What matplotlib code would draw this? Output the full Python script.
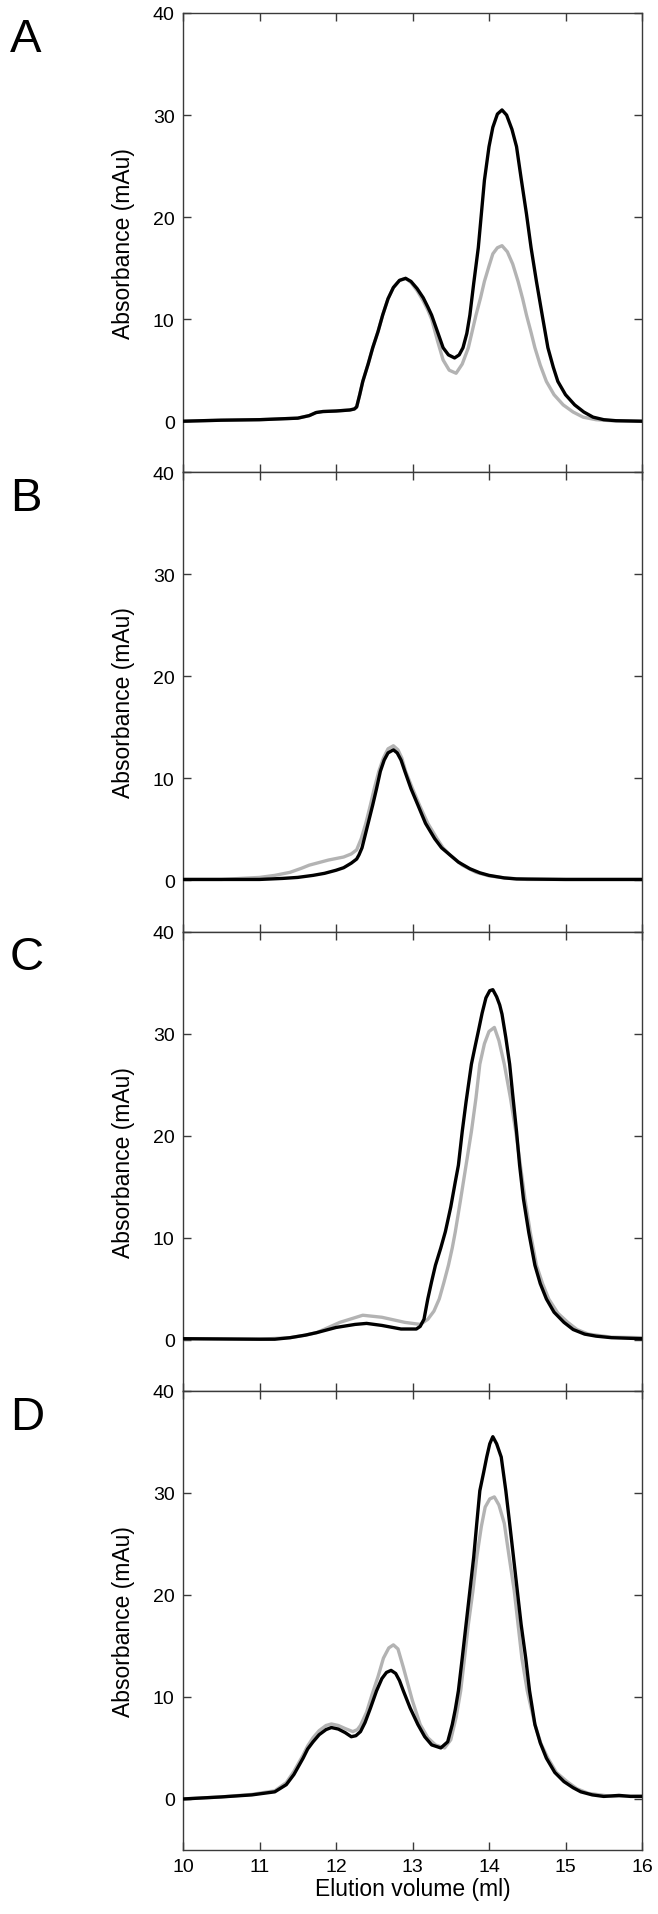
import matplotlib
matplotlib.use("Agg")
import matplotlib.pyplot as plt

plt.rcParams['font.family'] = ['Liberation Sans', 'DejaVu Sans']

# ---------------- data (elution volume in ml, absorbance in mAu) ----------------
# Panel A
a_black_x = [10.0, 10.5, 11.0, 11.5, 11.65, 11.74, 11.83, 12.0, 12.18, 12.24, 12.27, 12.31, 12.35,
             12.42, 12.48, 12.55, 12.61, 12.68, 12.75, 12.83, 12.91, 12.98, 13.06, 13.14, 13.2,
             13.25, 13.33, 13.40, 13.47, 13.55, 13.61, 13.66, 13.71, 13.75, 13.8, 13.86, 13.9,
             13.94, 14.0, 14.05, 14.11, 14.17, 14.23, 14.30, 14.36, 14.42, 14.49, 14.55, 14.62,
             14.70, 14.77, 14.84, 14.90, 15.0, 15.12, 15.24, 15.36, 15.5, 15.66, 16.0]
a_black_y = [0.0, 0.1, 0.15, 0.3, 0.55, 0.85, 0.95, 1.0, 1.1, 1.2, 1.4, 2.6, 3.9,
             5.6, 7.2, 8.8, 10.4, 12.0, 13.1, 13.8, 14.0, 13.7, 13.0, 12.1, 11.2,
             10.4, 8.7, 7.2, 6.5, 6.2, 6.5, 7.2, 8.6, 10.4, 13.5, 17.0, 20.3,
             23.6, 26.9, 28.8, 30.1, 30.5, 30.0, 28.6, 26.9, 23.8, 20.3, 17.0, 13.7,
             10.2, 7.2, 5.3, 3.9, 2.6, 1.6, 0.9, 0.4, 0.15, 0.05, 0.0]
a_gray_x = [10.0, 10.5, 11.0, 11.5, 11.65, 11.74, 11.83, 12.0, 12.18, 12.24, 12.27, 12.31, 12.35,
            12.42, 12.48, 12.55, 12.61, 12.68, 12.75, 12.83, 12.91, 12.98, 13.06, 13.14, 13.2,
            13.25, 13.33, 13.40, 13.48, 13.57, 13.65, 13.73, 13.78, 13.83, 13.89, 13.94, 14.0,
            14.05, 14.11, 14.17, 14.24, 14.31, 14.38, 14.44, 14.49, 14.55, 14.60, 14.67, 14.75,
            14.85, 14.97, 15.1, 15.23, 15.4, 15.6, 16.0]
a_gray_y = [0.0, 0.1, 0.15, 0.3, 0.55, 0.85, 0.95, 1.0, 1.1, 1.2, 1.4, 2.6, 3.9,
            5.6, 7.2, 8.8, 10.4, 12.0, 13.1, 13.8, 14.0, 13.6, 12.8, 11.8, 10.9,
            10.0, 7.8, 6.0, 5.0, 4.7, 5.6, 7.2, 8.8, 10.4, 12.1, 13.7, 15.2,
            16.4, 17.0, 17.2, 16.6, 15.4, 13.7, 12.0, 10.4, 8.7, 7.2, 5.5, 3.9,
            2.6, 1.6, 0.9, 0.4, 0.15, 0.05, 0.0]

# Panel B
b_black_x = [10.0, 10.5, 11.0, 11.3, 11.5, 11.7, 11.85, 12.0, 12.1, 12.2, 12.27, 12.3, 12.34,
             12.37, 12.42, 12.48, 12.53, 12.58, 12.63, 12.68, 12.75, 12.8, 12.85, 12.9, 12.98,
             13.07, 13.17, 13.29, 13.38, 13.49, 13.6, 13.75, 13.88, 14.0, 14.2, 14.36, 15.0, 16.0]
b_black_y = [0.1, 0.1, 0.1, 0.2, 0.3, 0.5, 0.7, 1.0, 1.25, 1.7, 2.1, 2.5, 3.2,
             4.1, 5.6, 7.4, 9.0, 10.7, 11.8, 12.5, 12.8, 12.5, 11.8, 10.7, 9.0,
             7.4, 5.6, 4.1, 3.2, 2.5, 1.8, 1.15, 0.75, 0.5, 0.25, 0.15, 0.1, 0.1]
b_gray_x = [10.0, 10.5, 11.0, 11.2, 11.4, 11.55, 11.65, 11.8, 11.9, 12.0, 12.1, 12.2, 12.27,
            12.33, 12.39, 12.45, 12.5, 12.56, 12.62, 12.68, 12.75, 12.81, 12.86, 12.91, 13.0,
            13.09, 13.2, 13.32, 13.4, 13.49, 13.65, 13.83, 14.0, 14.2, 14.5, 15.0, 16.0]
b_gray_y = [0.1, 0.1, 0.3, 0.5, 0.8, 1.2, 1.5, 1.8, 2.0, 2.15, 2.3, 2.6, 3.0,
            4.1, 5.6, 7.4, 9.0, 10.7, 12.0, 12.9, 13.2, 12.8, 12.0, 10.7, 9.0,
            7.4, 5.6, 4.1, 3.2, 2.5, 1.5, 0.8, 0.45, 0.25, 0.1, 0.1, 0.1]

# Panel C
c_black_x = [10.0, 11.0, 11.2, 11.4, 11.6, 11.75, 12.0, 12.25, 12.4, 12.6, 12.85, 13.05, 13.1,
             13.15, 13.2, 13.25, 13.3, 13.37, 13.43, 13.5, 13.56, 13.6, 13.65, 13.7, 13.77,
             13.82, 13.86, 13.91, 13.96, 14.01, 14.05, 14.1, 14.14, 14.17, 14.22, 14.27, 14.31,
             14.36, 14.4, 14.45, 14.52, 14.6, 14.67, 14.75, 14.85, 14.98, 15.1, 15.25, 15.4,
             15.6, 16.0]
c_black_y = [0.1, 0.05, 0.05, 0.2, 0.45, 0.7, 1.2, 1.5, 1.6, 1.4, 1.05, 1.05, 1.3,
             2.0, 4.0, 5.7, 7.3, 9.0, 10.6, 13.0, 15.5, 17.1, 20.4, 23.3, 27.0,
             28.8, 30.2, 32.0, 33.5, 34.2, 34.3, 33.6, 32.8, 31.9, 29.6, 27.0, 24.0,
             20.4, 17.1, 13.8, 10.5, 7.3, 5.5, 4.0, 2.7, 1.7, 1.0, 0.55, 0.35,
             0.2, 0.1]
c_gray_x = [10.0, 11.0, 11.4, 11.6, 11.75, 12.05, 12.35, 12.6, 12.9, 13.1, 13.2, 13.28, 13.35,
            13.41, 13.47, 13.52, 13.56, 13.63, 13.7, 13.77, 13.83, 13.88, 13.94, 14.0, 14.07,
            14.13, 14.2, 14.28, 14.35, 14.41, 14.47, 14.54, 14.62, 14.7, 14.78, 14.9, 15.03,
            15.15, 15.3, 15.6, 16.0]
c_gray_y = [0.1, 0.05, 0.2, 0.45, 0.7, 1.7, 2.4, 2.2, 1.7, 1.5, 2.0, 2.8, 4.0,
            5.6, 7.3, 9.0, 10.6, 13.8, 17.1, 20.4, 23.7, 27.0, 29.0, 30.2, 30.6,
            29.3, 27.0, 23.7, 20.4, 17.1, 13.8, 10.5, 7.3, 5.5, 4.0, 2.6, 1.7,
            1.0, 0.55, 0.25, 0.2]

# Panel D
d_black_x = [10.0, 10.5, 10.9, 11.2, 11.35, 11.45, 11.51, 11.57, 11.63, 11.7, 11.78, 11.87, 11.94,
             12.03, 12.12, 12.2, 12.26, 12.32, 12.38, 12.45, 12.53, 12.6, 12.66, 12.72, 12.78,
             12.83, 12.88, 12.97, 13.07, 13.16, 13.25, 13.37, 13.46, 13.52, 13.56, 13.6, 13.65,
             13.7, 13.75, 13.8, 13.84, 13.88, 13.93, 13.97, 14.01, 14.05, 14.1, 14.16, 14.22,
             14.27, 14.32, 14.37, 14.42, 14.48, 14.53, 14.6, 14.67, 14.75, 14.86, 14.98, 15.1,
             15.2, 15.35, 15.5, 15.7, 15.85, 16.0]
d_black_y = [0.0, 0.2, 0.4, 0.7, 1.4, 2.4, 3.2, 4.0, 4.9, 5.6, 6.3, 6.8, 7.0,
             6.85, 6.5, 6.1, 6.2, 6.6, 7.5, 8.9, 10.6, 11.8, 12.4, 12.6, 12.3,
             11.6, 10.6, 8.9, 7.3, 6.1, 5.3, 5.0, 5.6, 7.3, 8.8, 10.6, 13.8,
             17.1, 20.4, 23.7, 27.0, 30.2, 32.0, 33.5, 34.8, 35.5, 34.8, 33.5, 30.2,
             27.0, 23.7, 20.4, 17.1, 13.8, 10.6, 7.3, 5.5, 4.0, 2.6, 1.7, 1.1,
             0.7, 0.4, 0.25, 0.35, 0.25, 0.25]
d_gray_x = [10.0, 10.5, 10.9, 11.2, 11.35, 11.45, 11.51, 11.57, 11.63, 11.7, 11.78, 11.87, 11.94,
            12.03, 12.12, 12.22, 12.28, 12.32, 12.4, 12.47, 12.55, 12.62, 12.69, 12.75, 12.81,
            12.88, 13.0, 13.1, 13.2, 13.3, 13.42, 13.5, 13.57, 13.63, 13.68, 13.73, 13.79,
            13.84, 13.9, 13.95, 14.01, 14.07, 14.13, 14.2, 14.26, 14.33, 14.38, 14.43, 14.5,
            14.6, 14.68, 14.77, 14.88, 15.02, 15.15, 15.3, 15.6, 16.0]
d_gray_y = [0.0, 0.2, 0.45, 0.8, 1.6, 2.7, 3.5, 4.3, 5.2, 6.0, 6.7, 7.2, 7.35,
            7.2, 6.9, 6.6, 6.8, 7.2, 8.5, 10.2, 12.0, 13.8, 14.8, 15.1, 14.7,
            12.9, 9.6, 7.3, 6.0, 5.3, 5.0, 5.8, 8.0, 10.6, 13.8, 17.1, 20.4,
            23.7, 26.7, 28.6, 29.4, 29.6, 28.8, 27.0, 23.9, 20.4, 17.1, 13.8, 10.6,
            7.3, 5.4, 4.0, 2.6, 1.7, 1.0, 0.55, 0.25, 0.3]

panel_letters = ['A', 'B', 'C', 'D']
x_ticks = [10, 11, 12, 13, 14, 15, 16]
y_ticks = [0, 10, 20, 30, 40]
x_label = 'Elution volume (ml)'
y_label = 'Absorbance (mAu)'

panels = [
    (a_black_x, a_black_y, a_gray_x, a_gray_y),
    (b_black_x, b_black_y, b_gray_x, b_gray_y),
    (c_black_x, c_black_y, c_gray_x, c_gray_y),
    (d_black_x, d_black_y, d_gray_x, d_gray_y),
]

# ---------------- figure ----------------
W, H = 658, 1915
fig = plt.figure(figsize=(W / 100, H / 100), dpi=100)

left_px, right_px = 183, 642
top_px, bottom_px = 14, 1851
ph = (bottom_px - top_px) / 4.0

spine_col = '#3a3a3a'
gray_col = '#b3b3b3'

for i, (bx, by, gx, gy) in enumerate(panels):
    top = top_px + i * ph
    ax = fig.add_axes([left_px / W, 1 - (top + ph) / H, (right_px - left_px) / W, ph / H])
    ax.plot(gx, gy, color=gray_col, lw=2.4, solid_joinstyle='round', zorder=2)
    ax.plot(bx, by, color='black', lw=2.4, solid_joinstyle='round', zorder=3)
    ax.set_xlim(10, 16)
    ax.set_ylim(-5, 40)
    ax.set_xticks(x_ticks)
    ax.set_yticks(y_ticks)
    ax.tick_params(direction='in', length=6, width=1.0, color=spine_col,
                   top=True, right=True, labelsize=14, pad=6)
    for s in ax.spines.values():
        s.set_color(spine_col)
        s.set_linewidth(1.0)
    if i < 3:
        ax.tick_params(labelbottom=False)
    else:
        ax.set_xlabel(x_label, fontsize=16.5, labelpad=1)
    ax.set_ylabel(y_label, fontsize=16.5)
    ax.yaxis.set_label_coords(-0.105, 0.5)
    fig.text(10 / W, 1 - (top + 4) / H, panel_letters[i], fontsize=34,
             ha='left', va='top')

fig.savefig('out.png', dpi=100)
